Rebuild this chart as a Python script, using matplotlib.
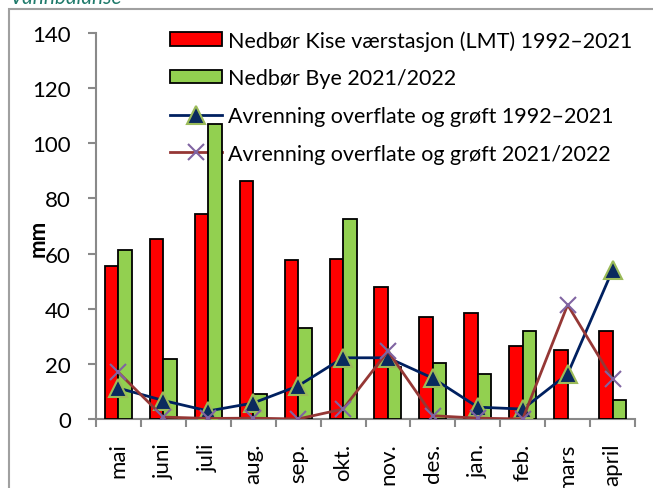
import numpy as np
import matplotlib
matplotlib.use('Agg')
import matplotlib.pyplot as plt
from matplotlib.patches import Rectangle

plt.rcParams['font.family'] = ['Lato', 'DejaVu Sans']

# data
months = ['mai', 'juni', 'juli', 'aug.', 'sep.', 'okt.', 'nov.', 'des.', 'jan.', 'feb.', 'mars', 'april']
kise = [55.4, 65.2, 74.4, 86.5, 57.7, 58.0, 47.8, 37.1, 38.4, 26.6, 25.1, 32.0]
bye = [61.3, 21.8, 107.0, 9.0, 32.9, 72.5, 19.0, 20.3, 16.3, 31.8, 0.0, 6.8]
avr_norm = [11.2, 6.7, 2.9, 5.8, 12.0, 22.2, 22.2, 14.8, 4.3, 3.6, 16.3, 54.0]
avr_2122 = [16.9, 0.7, 0.2, 0.3, 0.0, 3.6, 24.6, 1.2, 0.3, 0.0, 41.4, 14.5]

labels = ['Nedbør Kise værstasjon (LMT) 1992–2021', 'Nedbør Bye 2021/2022',
          'Avrenning overflate og grøft 1992–2021', 'Avrenning overflate og grøft 2021/2022']

W, H = 653, 489
fig = plt.figure(figsize=(W / 100, H / 100), dpi=100)
ax = fig.add_axes([96 / W, 1 - 420 / H, (635 - 96) / W, 386 / H])

x = np.arange(len(months))
bw = 0.3
b1 = ax.bar(x - bw / 2, kise, bw, color='#FF0000', edgecolor='black', linewidth=1.3, zorder=3)
b2 = ax.bar(x + bw / 2, bye, bw, color='#92D050', edgecolor='black', linewidth=1.3, zorder=3)
for p in list(b1) + list(b2):
    if p.get_height() == 0:
        p.set_visible(False)  # no flat outline for empty months
l1, = ax.plot(x, avr_norm, color='#002060', lw=2, marker='^', markersize=13, markerfacecolor='#0B2A5E',
              markeredgecolor='#9BBB59', markeredgewidth=1.5, zorder=4)
l2, = ax.plot(x, avr_2122, color='#953735', lw=2, marker='x', markersize=11, markeredgecolor='#8064A2',
              markeredgewidth=1.5, zorder=5)

ax.set_xlim(-0.5, len(months) - 0.5)
ax.set_ylim(0, 140)
ax.set_yticks(np.arange(0, 141, 20))
ax.set_xticks(x)
ax.set_xticklabels(months, rotation=90)
ax.set_xticks(np.arange(-0.5, len(months), 1), minor=True)

grey = '#898989'
for s in ['top', 'right']:
    ax.spines[s].set_visible(False)
for s in ['left', 'bottom']:
    ax.spines[s].set_color(grey)
    ax.spines[s].set_linewidth(1.5)
ax.tick_params(axis='y', length=6, width=1.5, color=grey, pad=12, labelsize=16)
ax.tick_params(axis='x', which='major', length=0, pad=17, labelsize=16)
ax.tick_params(axis='x', which='minor', length=6, width=1.5, color=grey)

leg = ax.legend([b1, b2, l1, l2], labels, loc='upper left', bbox_to_anchor=(170 / W, 1 - 31 / H),
                bbox_transform=fig.transFigure, frameon=False, fontsize=15.5, handlelength=2.4,
                handleheight=0.6, handletextpad=0.3, labelspacing=0.82, borderpad=0, borderaxespad=0)
leg.set_zorder(1)

fig.text(38 / W, 1 - 238 / H, 'mm', rotation=90, fontweight='bold', fontsize=16, ha='center', va='center')
fig.text(10 / W, 1 - 4 / H, 'Vannbalanse', fontstyle='italic', color='#1F7A6B', fontsize=15, ha='left', va='baseline')
fig.patches.append(Rectangle((9 / W, -0.1), 1.0, 1 - 10 / H + 0.1, transform=fig.transFigure,
                             fill=False, edgecolor='#A0A0A0', linewidth=1.5))

fig.savefig('out.png', dpi=100)
